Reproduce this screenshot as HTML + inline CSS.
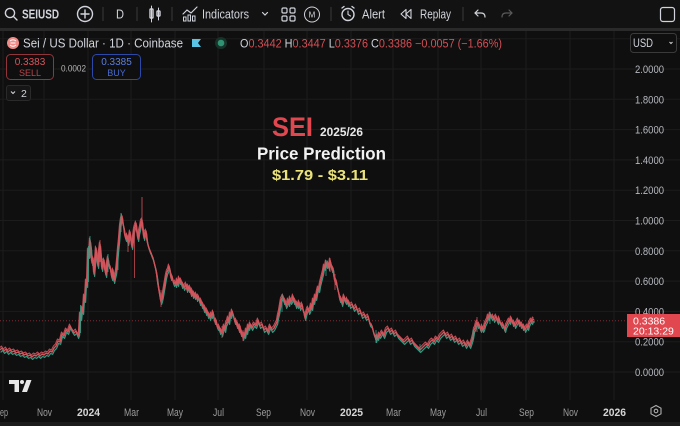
<!DOCTYPE html>
<html><head><meta charset="utf-8">
<style>
html,body{margin:0;padding:0;background:#0f0f0f;}
svg{display:block;}
text{font-family:"Liberation Sans",sans-serif;}
</style></head>
<body>
<svg width="680" height="426" viewBox="0 0 680 426" xmlns="http://www.w3.org/2000/svg">
<defs>
<path id="pp" fill="none" d="M0,350 L2,348 4,351 6,349 8,352 10,350 12,352 14,351 16,353 18,352 20,354 22,353 24,355 26,354 28,356 30,355 32,357 34,355 36,356 38,354 40,356 42,354 44,355 46,353 48,354 50,351 52,352 54,348 56,346 58,341 60,342 62,334 64,336 66,330 68,332 70,326 72,330 74,333 76,331 78,336 79,333 80,314 81,318 82,308 83,312 84,296 85,300 86,281 87,285 88,250 89,256 90,240 91,248 92,263 93,258 94,274 95,262 96,248 97,258 98,266 99,252 100,244 101,256 102,269 103,262 104,260 105,270 106,275 107,264 108,258 109,266 110,266 111,272 112,278 113,270 114,281 115,276 116,272 117,262 118,250 119,240 120,227 121,220 122,216 123,224 124,228 125,236 126,239 127,235 128,243 129,238 130,232 131,240 132,247 133,238 134,230 135,226 136,223 137,232 138,239 139,232 140,228 141,222 142,220 143,230 144,238 145,233 146,231 147,240 148,245 149,248 150,251 151,253 152,256 153,258 154,262 155,266 156,270 157,276 158,284 159,290 160,296 161,302 162,299 163,294 164,288 165,282 166,276 167,272 168,270 169,266 170,270 171,278 172,276 173,281 174,284 175,282 176,285 177,280 178,284 179,278 180,282 181,280 182,286 183,284 184,288 185,286 186,284 187,290 188,286 189,290 190,287 191,294 192,290 193,296 194,293 195,297 196,294 197,299 198,296 199,298 200,303 201,300 202,306 203,304 204,310 205,307 206,313 207,310 208,316 209,314 210,318 211,314 212,316 213,312 214,318 215,322 216,320 217,326 218,328 219,326 220,332 221,330 222,334 223,330 224,326 225,330 226,324 227,322 228,318 229,322 230,314 231,316 232,311 233,314 234,318 235,322 236,320 237,326 238,324 239,330 240,326 241,334 242,332 243,338 244,334 245,336 246,330 247,332 248,326 249,328 250,324 252,328 254,324 256,326 258,320 260,326 262,324 264,330 266,328 268,332 270,326 272,330 274,328 276,324 277,322 278,316 279,312 280,306 281,300 282,298 283,296 284,302 285,300 286,306 287,304 288,300 289,304 290,298 291,302 292,300 293,296 294,302 295,300 296,306 297,303 298,306 299,302 300,308 301,306 302,304 303,310 304,312 305,318 306,314 307,310 308,308 309,312 310,310 311,305 312,308 313,300 314,302 315,296 316,298 317,292 318,288 319,290 320,284 321,280 322,276 323,272 324,266 325,268 326,262 327,266 328,263 329,268 330,260 331,264 332,270 333,268 334,276 335,282 336,280 337,286 338,290 339,294 340,300 341,298 342,304 343,300 344,296 345,300 346,302 347,299 348,304 349,302 350,306 352,304 354,309 356,306 358,312 360,310 362,316 364,314 366,318 368,316 370,324 372,326 373,330 374,334 375,336 376,340 377,336 378,338 379,334 380,336 382,332 384,336 386,330 388,328 390,332 392,330 394,334 396,332 398,336 400,338 402,340 404,342 406,340 408,338 410,342 412,340 414,344 416,346 418,348 420,350 422,348 424,346 426,344 428,346 430,342 432,340 434,342 436,338 438,340 440,336 442,334 444,332 446,336 448,334 450,338 452,336 454,340 456,338 458,342 460,340 462,344 464,342 466,346 468,342 470,346 472,340 473,336 474,330 475,328 476,324 477,322 478,326 479,324 480,328 481,330 482,326 483,330 484,328 485,324 486,322 487,320 488,316 489,318 490,314 491,316 492,318 493,316 494,320 495,318 496,316 497,320 498,322 499,318 500,322 501,324 502,326 503,324 504,328 505,330 506,326 507,324 508,322 509,320 510,322 511,318 512,320 513,324 514,322 515,326 516,324 517,322 518,320 519,324 520,322 521,326 522,324 523,328 524,326 525,330 526,328 527,326 528,328 529,324 530,322 531,320 532,322 533,319 534,320"/>
</defs>
<rect x="0" y="0" width="680" height="426" fill="#0f0f0f"/>
<!-- toolbar -->
<rect x="0" y="0" width="680" height="28" fill="#121212"/>
<rect x="0" y="28" width="680" height="3" fill="#2a2a2a"/>
<!-- grid -->
<g stroke="#1c1c1c" stroke-width="1">
  <line x1="0" y1="372" x2="680" y2="372"/><line x1="0" y1="341.7" x2="680" y2="341.7"/>
  <line x1="0" y1="311.4" x2="680" y2="311.4"/><line x1="0" y1="281.1" x2="680" y2="281.1"/>
  <line x1="0" y1="250.8" x2="680" y2="250.8"/><line x1="0" y1="220.5" x2="680" y2="220.5"/>
  <line x1="0" y1="190.2" x2="680" y2="190.2"/><line x1="0" y1="159.9" x2="680" y2="159.9"/>
  <line x1="0" y1="129.6" x2="680" y2="129.6"/><line x1="0" y1="99.3" x2="680" y2="99.3"/>
  <line x1="0" y1="69" x2="680" y2="69"/><line x1="0" y1="38.7" x2="680" y2="38.7"/>
  <line x1="3" y1="31" x2="3" y2="400"/><line x1="44" y1="31" x2="44" y2="400"/>
  <line x1="88" y1="31" x2="88" y2="400"/><line x1="131" y1="31" x2="131" y2="400"/>
  <line x1="175" y1="31" x2="175" y2="400"/><line x1="218" y1="31" x2="218" y2="400"/>
  <line x1="264" y1="31" x2="264" y2="400"/><line x1="307" y1="31" x2="307" y2="400"/>
  <line x1="351" y1="31" x2="351" y2="400"/><line x1="393" y1="31" x2="393" y2="400"/>
  <line x1="438" y1="31" x2="438" y2="400"/><line x1="481" y1="31" x2="481" y2="400"/>
  <line x1="526" y1="31" x2="526" y2="400"/><line x1="570" y1="31" x2="570" y2="400"/>
  <line x1="614" y1="31" x2="614" y2="400"/>
</g>
<!-- price line -->
<line x1="0" y1="320.7" x2="627" y2="320.7" stroke="#7e2c32" stroke-width="1" stroke-dasharray="1,2"/>

<!-- candles approximation -->
<g stroke-linejoin="round">
  <use href="#pp" transform="translate(0.6,2.4)" stroke="#2f9a82" stroke-width="1.2"/>
  <use href="#pp" transform="translate(-0.6,-2)" stroke="#c24c55" stroke-width="1"/>
  <use href="#pp" stroke="#d4545c" stroke-width="1.4"/>
</g>
<g stroke-width="0.8">
  <line x1="142" y1="197" x2="142" y2="226" stroke="#d4545c"/>
  <line x1="134.5" y1="228" x2="134.5" y2="278" stroke="#c24c55"/>
  <line x1="121" y1="213" x2="121" y2="232" stroke="#35a088"/>
  <line x1="90" y1="236" x2="90" y2="258" stroke="#35a088"/>
  <line x1="100" y1="240" x2="100" y2="262" stroke="#d4545c"/>
  <line x1="108" y1="254" x2="108" y2="272" stroke="#35a088"/>
  <line x1="128" y1="236" x2="128" y2="252" stroke="#d4545c"/>
  <line x1="161" y1="290" x2="161" y2="307" stroke="#c24c55"/>
  <line x1="80.5" y1="305" x2="80.5" y2="333" stroke="#35a088"/>
  <line x1="88.5" y1="246" x2="88.5" y2="282" stroke="#35a088"/>
  <line x1="118" y1="246" x2="118" y2="270" stroke="#35a088"/>
  <line x1="330" y1="258" x2="330" y2="272" stroke="#d4545c"/>
  <line x1="326" y1="260" x2="326" y2="276" stroke="#35a088"/>
  <line x1="335" y1="274" x2="335" y2="290" stroke="#c24c55"/>
  <line x1="282" y1="294" x2="282" y2="312" stroke="#35a088"/>
  <line x1="222" y1="326" x2="222" y2="338" stroke="#c24c55"/>
  <line x1="243" y1="330" x2="243" y2="341" stroke="#c24c55"/>
  <line x1="376" y1="330" x2="376" y2="343" stroke="#35a088"/>
  <line x1="420" y1="344" x2="420" y2="352" stroke="#35a088"/>
  <line x1="477" y1="317" x2="477" y2="332" stroke="#d4545c"/>
  <line x1="490" y1="312" x2="490" y2="324" stroke="#35a088"/>
  <line x1="473" y1="330" x2="473" y2="342" stroke="#35a088"/>
</g>

<!-- toolbar content -->
<g fill="none" stroke="#d1d4dc" stroke-width="1.4" stroke-linecap="round">
  <circle cx="10" cy="13" r="4.6"/><line x1="13.5" y1="16.5" x2="17" y2="20"/>
  <circle cx="85" cy="14" r="7.5"/><line x1="81" y1="14" x2="89" y2="14"/><line x1="85" y1="10" x2="85" y2="18"/>
  <line x1="151.5" y1="6" x2="151.5" y2="22" stroke-width="1"/><rect x="150" y="9" width="3" height="9" rx="0.8"/>
  <line x1="158.5" y1="8" x2="158.5" y2="20" stroke-width="1"/><rect x="157" y="11" width="3" height="5" rx="0.8"/>
  <polyline points="183,14 187,10 191,13 197,7" stroke-width="1.2"/>
  <rect x="183.5" y="17" width="2.5" height="4" stroke-width="1"/><rect x="188" y="15" width="2.5" height="6" stroke-width="1"/><rect x="192.5" y="16" width="2.5" height="5" stroke-width="1"/>
  <polyline points="262.5,12.5 265,15 267.5,12.5" stroke-width="1.2"/>
  <rect x="282" y="8" width="5" height="5" rx="1.3" stroke-width="1.2"/><rect x="290" y="8" width="5" height="5" rx="1.3" stroke-width="1.2"/>
  <rect x="282" y="16" width="5" height="5" rx="1.3" stroke-width="1.2"/><rect x="290" y="16" width="5" height="5" rx="1.3" stroke-width="1.2"/>
  <circle cx="312" cy="14.5" r="7.5" stroke-width="1"/>
  <circle cx="348" cy="14.5" r="6"/><polyline points="348,11 348,14.5 350.5,16" stroke-width="1.1"/>
  <line x1="342" y1="8" x2="344" y2="6.5"/><line x1="354" y1="8" x2="352" y2="6.5"/>
  <polygon points="401,14 406,9.5 406,18.5" stroke-width="1.1" stroke-linejoin="round"/><polygon points="406,14 411,9.5 411,18.5" stroke-width="1.1" stroke-linejoin="round"/>
  <path d="M478 10 L475 13 L478 16 M475 13 H481 Q485 13 485 17" stroke-width="1.2"/>
  <path d="M509 10 L512 13 L509 16 M512 13 H506 Q502 13 502 17" stroke="#5a5a5a" stroke-width="1.2"/>
  <rect x="660.5" y="7.5" width="14" height="14" rx="2.5" stroke-width="1.2"/>
</g>
<g stroke="#3a3a3a" stroke-width="1">
  <line x1="103" y1="7" x2="103" y2="21"/><line x1="137" y1="7" x2="137" y2="21"/><line x1="172" y1="7" x2="172" y2="21"/>
  <line x1="331" y1="7" x2="331" y2="21"/><line x1="463" y1="7" x2="463" y2="21"/>
</g>
<g fill="#d1d4dc" font-size="12.5">
  <text x="22" y="18.5" font-weight="bold" textLength="37" lengthAdjust="spacingAndGlyphs">SEIUSD</text>
  <text x="116" y="18.5" textLength="8" lengthAdjust="spacingAndGlyphs">D</text>
  <text x="202" y="18.5" textLength="47" lengthAdjust="spacingAndGlyphs">Indicators</text>
  <text x="312" y="17.5" font-size="8" text-anchor="middle">M</text>
  <text x="362" y="18.5" textLength="23" lengthAdjust="spacingAndGlyphs">Alert</text>
  <text x="420" y="18.5" textLength="31" lengthAdjust="spacingAndGlyphs">Replay</text>
</g>

<!-- legend row -->
<circle cx="13" cy="43" r="6" fill="#ef8a86"/>
<path d="M10 41 Q13 38.5 16 41 M10 45 Q13 47.5 16 45 M10.5 43 H15.5" stroke="#fff" stroke-width="1" fill="none"/>
<text x="23" y="47.5" font-size="12.5" fill="#d1d4dc" textLength="160" lengthAdjust="spacingAndGlyphs">Sei / US Dollar · 1D · Coinbase</text>
<path d="M192 39 H201 L198 43 L201 47 H192 Z" fill="#59c4e6"/>
<circle cx="221" cy="43" r="6" fill="#183229"/><circle cx="221" cy="43" r="3.3" fill="#2f9273"/>
<text x="240" y="47.5" font-size="11.5" fill="#d1d4dc" textLength="262" lengthAdjust="spacingAndGlyphs">O<tspan fill="#d44f56">0.3442</tspan> H<tspan fill="#d44f56">0.3447</tspan> L<tspan fill="#d44f56">0.3376</tspan> C<tspan fill="#d44f56">0.3386</tspan> <tspan fill="#d44f56">−0.0057 (−1.66%)</tspan></text>

<rect x="630.5" y="33.5" width="46" height="19" rx="3" fill="#0f0f0f" stroke="#3a3a3a"/>
<text x="633" y="47" font-size="11.5" fill="#d1d4dc" textLength="20" lengthAdjust="spacingAndGlyphs">USD</text>
<polyline points="669.5,42 671,43.5 672.5,42" fill="none" stroke="#d1d4dc" stroke-width="1"/>

<!-- sell/buy -->
<rect x="6.5" y="54.5" width="47" height="25" rx="4" fill="#0f0f0f" stroke="#8f353b"/>
<text x="30" y="65" font-size="10" fill="#d9545b" text-anchor="middle">0.3383</text>
<text x="30" y="76" font-size="9" fill="#b8454c" text-anchor="middle">SELL</text>
<text x="61" y="71.5" font-size="9" fill="#b5b5b5" textLength="25" lengthAdjust="spacingAndGlyphs">0.0002</text>
<rect x="92.5" y="54.5" width="48" height="25" rx="4" fill="#0f0f0f" stroke="#2c48a8"/>
<text x="116.5" y="65" font-size="10" fill="#5b7de0" text-anchor="middle">0.3385</text>
<text x="116.5" y="76" font-size="9" fill="#4a6bd0" text-anchor="middle">BUY</text>
<rect x="6.5" y="85.5" width="24" height="15" rx="2.5" fill="#161616" stroke="#2a2a2a"/>
<polyline points="11,91.5 13,93.5 15,91.5" fill="none" stroke="#d1d4dc" stroke-width="1.1"/>
<text x="21" y="97" font-size="10.5" fill="#d1d4dc">2</text>

<!-- price axis -->
<g font-size="11" fill="#b5b8bf">
  <text x="635" y="73" textLength="29" lengthAdjust="spacingAndGlyphs">2.0000</text>
  <text x="635" y="103.3" textLength="29" lengthAdjust="spacingAndGlyphs">1.8000</text>
  <text x="635" y="133.6" textLength="29" lengthAdjust="spacingAndGlyphs">1.6000</text>
  <text x="635" y="163.9" textLength="29" lengthAdjust="spacingAndGlyphs">1.4000</text>
  <text x="635" y="194.2" textLength="29" lengthAdjust="spacingAndGlyphs">1.2000</text>
  <text x="635" y="224.5" textLength="29" lengthAdjust="spacingAndGlyphs">1.0000</text>
  <text x="635" y="254.8" textLength="29" lengthAdjust="spacingAndGlyphs">0.8000</text>
  <text x="635" y="285.1" textLength="29" lengthAdjust="spacingAndGlyphs">0.6000</text>
  <text x="635" y="315.4" textLength="29" lengthAdjust="spacingAndGlyphs">0.4000</text>
  <text x="635" y="345.7" textLength="29" lengthAdjust="spacingAndGlyphs">0.2000</text>
  <text x="635" y="376" textLength="29" lengthAdjust="spacingAndGlyphs">0.0000</text>
</g>
<rect x="627" y="314" width="53" height="23" fill="#e0474e"/>
<text x="633" y="324.5" font-size="10.5" fill="#fff">0.3386</text>
<text x="633" y="334.5" font-size="10.5" fill="#fff">20:13:29</text>

<!-- title overlay -->
<text x="272" y="136" font-size="27" font-weight="bold" fill="#e0474f" textLength="41" lengthAdjust="spacingAndGlyphs">SEI</text>
<text x="320" y="136" font-size="12" font-weight="bold" fill="#e8e8e8" textLength="43" lengthAdjust="spacingAndGlyphs">2025/26</text>
<text x="257" y="159.5" font-size="17.5" font-weight="bold" fill="#f2f2f2" textLength="129" lengthAdjust="spacingAndGlyphs">Price Prediction</text>
<text x="272" y="180" font-size="15" font-weight="bold" fill="#ebe37a" textLength="96" lengthAdjust="spacingAndGlyphs">$1.79 - $3.11</text>

<!-- TV logo -->
<g fill="#e6e6e6">
  <rect x="9" y="380" width="10" height="4"/><rect x="14.5" y="380" width="4.5" height="12"/>
  <circle cx="22" cy="382" r="2"/>
  <polygon points="26.5,380 31.5,380 27,392 22,392"/>
</g>

<!-- x axis -->
<g font-size="11" fill="#9c9c9c">
  <text x="0" y="416" textLength="8" lengthAdjust="spacingAndGlyphs">ep</text>
  <text x="37" y="416" textLength="15" lengthAdjust="spacingAndGlyphs">Nov</text>
  <text x="77" y="416" fill="#d6d6d6" font-weight="bold" textLength="23" lengthAdjust="spacingAndGlyphs">2024</text>
  <text x="124" y="416" textLength="15" lengthAdjust="spacingAndGlyphs">Mar</text>
  <text x="167" y="416" textLength="16" lengthAdjust="spacingAndGlyphs">May</text>
  <text x="213" y="416" textLength="11" lengthAdjust="spacingAndGlyphs">Jul</text>
  <text x="256" y="416" textLength="15" lengthAdjust="spacingAndGlyphs">Sep</text>
  <text x="300" y="416" textLength="15" lengthAdjust="spacingAndGlyphs">Nov</text>
  <text x="340" y="416" fill="#d6d6d6" font-weight="bold" textLength="23" lengthAdjust="spacingAndGlyphs">2025</text>
  <text x="386" y="416" textLength="15" lengthAdjust="spacingAndGlyphs">Mar</text>
  <text x="430" y="416" textLength="16" lengthAdjust="spacingAndGlyphs">May</text>
  <text x="476" y="416" textLength="11" lengthAdjust="spacingAndGlyphs">Jul</text>
  <text x="519" y="416" textLength="15" lengthAdjust="spacingAndGlyphs">Sep</text>
  <text x="563" y="416" textLength="15" lengthAdjust="spacingAndGlyphs">Nov</text>
  <text x="603" y="416" fill="#d6d6d6" font-weight="bold" textLength="23" lengthAdjust="spacingAndGlyphs">2026</text>
</g>
<g fill="none" stroke="#b0b0b0" stroke-width="1.1">
  <polygon points="656,405.5 661,408.2 661,413.8 656,416.5 651,413.8 651,408.2"/>
  <circle cx="656" cy="411" r="1.8"/>
</g>
<rect x="0" y="422" width="680" height="4" fill="#1c1c1c"/>
</svg>
</body></html>
